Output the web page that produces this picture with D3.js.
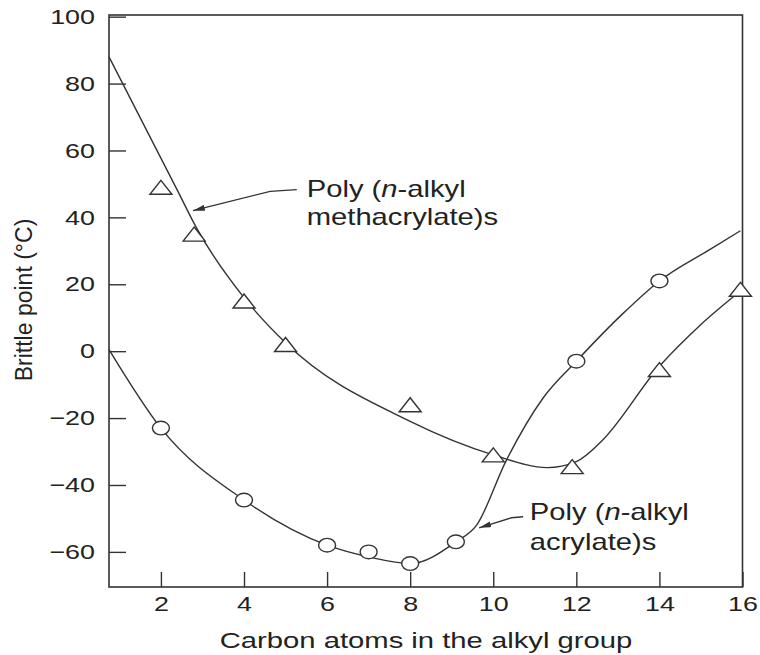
<!DOCTYPE html>
<html>
<head>
<meta charset="utf-8">
<script src="https://cdn.jsdelivr.net/npm/d3@7"></script>
<style>
  body { margin: 0; background: #fff; }
  text { font-family: "Liberation Sans", Arial, sans-serif; fill: #222; }
</style>
</head>
<body>
<svg id="chart" width="760" height="655"></svg>
<script>
var xTicks = [2, 4, 6, 8, 10, 12, 14, 16];
var yTicks = [-60, -40, -20, 0, 20, 40, 60, 80, 100];

// measured points
var acrylateX = [2, 4, 6, 7, 8, 9.1, 12, 14];
var acrylateY = [-23, -44.5, -58, -60, -63.5, -57, -3, 21];
var methX = [2, 2.8, 4, 5, 8, 10, 11.9, 14, 15.95];
var methY = [49, 35, 15, 2, -16, -31, -34.5, -5.5, 18.5];

// smooth curves drawn through the data
var acrylateFitX = [0.75, 2, 4, 6, 7, 8, 9.1, 9.6, 10.3, 11.2, 12, 13.1, 14, 15.2, 15.95];
var acrylateFitY = [0.5, -23, -44.5, -58, -61.5, -63.5, -57, -52, -33, -14, -3, 11, 21, 30.3, 36];
var methFitX = [0.75, 2.4, 2.85, 4, 5, 8, 10, 11.3, 12, 12.6, 14, 15, 15.95];
var methFitY = [88, 48, 37, 16, 2.5, -21, -31, -34.8, -33, -27, -4.5, 8, 18];

var svg = d3.select("#chart"),
    margin = {left: 109, right: 17.5, top: 15, bottom: 68},
    width = +svg.attr("width"),
    height = +svg.attr("height"),
    stretch = 1.28;

var x = d3.scaleLinear().domain([0.75, 16]).range([margin.left, width - margin.right]);
var y = d3.scaleLinear().domain([-70.5, 100.5]).range([height - margin.bottom, margin.top]);

var ink = "#333";

svg.append("rect")
    .attr("x", x(0.75)).attr("y", y(100.5))
    .attr("width", x(16) - x(0.75)).attr("height", y(-70.5) - y(100.5))
    .attr("fill", "none").attr("stroke", ink).attr("stroke-width", 1.6);

var xAxis = svg.append("g")
    .attr("transform", "translate(0," + y(-70.5) + ")")
    .call(d3.axisBottom(x).tickValues(xTicks).tickSizeInner(-15).tickSizeOuter(0).tickPadding(9));

var yAxis = svg.append("g")
    .attr("transform", "translate(" + x(0.75) + ",0)")
    .call(d3.axisLeft(y).tickValues(yTicks).tickSizeInner(-17).tickSizeOuter(0).tickPadding(14 / stretch)
        .tickFormat(function (d) { return d < 0 ? "\u2212" + Math.abs(d) : d; }));

[xAxis, yAxis].forEach(function (g) {
    g.select(".domain").remove();
    g.selectAll(".tick line").attr("stroke", ink).attr("stroke-width", 1.4);
    g.selectAll(".tick text")
        .attr("font-size", 21)
        .attr("fill", "#222")
        .attr("transform", "scale(" + stretch + ",1)");
});

// titles
svg.append("g")
    .attr("transform", "translate(426,648) scale(1.3,1)")
    .append("text")
    .attr("text-anchor", "middle")
    .attr("font-size", 22.5)
    .text("Carbon atoms in the alkyl group");

svg.append("text")
    .attr("transform", "translate(32,300) rotate(-90)")
    .attr("text-anchor", "middle")
    .attr("font-size", 23)
    .text("Brittle point (\u00B0C)");

// curves
var line = d3.line()
    .x(function (d) { return x(d[0]); })
    .y(function (d) { return y(d[1]); })
    .curve(d3.curveMonotoneX);

[[acrylateFitX, acrylateFitY], [methFitX, methFitY]].forEach(function (s) {
    svg.append("path")
        .datum(d3.zip(s[0], s[1]))
        .attr("d", line)
        .attr("fill", "none")
        .attr("stroke", ink)
        .attr("stroke-width", 1.4);
});

// markers
svg.selectAll(".circ")
    .data(d3.zip(acrylateX, acrylateY))
    .enter().append("ellipse")
    .attr("class", "circ")
    .attr("cx", function (d) { return x(d[0]); })
    .attr("cy", function (d) { return y(d[1]); })
    .attr("rx", 8.5).attr("ry", 6.8)
    .attr("fill", "#fff").attr("stroke", ink).attr("stroke-width", 1.4);

svg.selectAll(".tri")
    .data(d3.zip(methX, methY))
    .enter().append("path")
    .attr("class", "tri")
    .attr("transform", function (d) { return "translate(" + x(d[0]) + "," + y(d[1]) + ")"; })
    .attr("d", "M-11,7L11,7L0,-7Z")
    .attr("fill", "#fff").attr("stroke", ink).attr("stroke-width", 1.4);

// annotations
svg.append("defs").append("marker")
    .attr("id", "head")
    .attr("viewBox", "0 0 12 6")
    .attr("refX", 12).attr("refY", 3)
    .attr("markerWidth", 12).attr("markerHeight", 6)
    .attr("markerUnits", "userSpaceOnUse")
    .attr("orient", "auto")
    .append("path").attr("d", "M0,0L12,3L0,6Z").attr("fill", ink);

var notes = [
    {lines: ["methacrylate)s"], tx: 5.51, ty: 45.96, arrow: [[5.27, 48.3], [4.63, 47.8], [2.77, 42.0]], dy: 27.5},
    {lines: ["acrylate)s"], tx: 10.88, ty: -50.5, arrow: [[10.72, -49.5], [10.44, -49.8], [9.66, -52.8]], dy: 30}
];

notes.forEach(function (n) {
    svg.append("path")
        .attr("d", d3.line().x(function (d) { return x(d[0]); }).y(function (d) { return y(d[1]); })(n.arrow))
        .attr("fill", "none")
        .attr("stroke", ink)
        .attr("stroke-width", 1.3)
        .attr("marker-end", "url(#head)");

    var g = svg.append("g")
        .attr("transform", "translate(" + x(n.tx) + "," + y(n.ty) + ") scale(1.27,1)");
    var t1 = g.append("text").attr("font-size", 23);
    t1.append("tspan").text("Poly (");
    t1.append("tspan").attr("font-style", "italic").text("n");
    t1.append("tspan").text("-alkyl");
    g.append("text").attr("font-size", 23).attr("y", n.dy).text(n.lines[0]);
});
</script>
</body>
</html>
